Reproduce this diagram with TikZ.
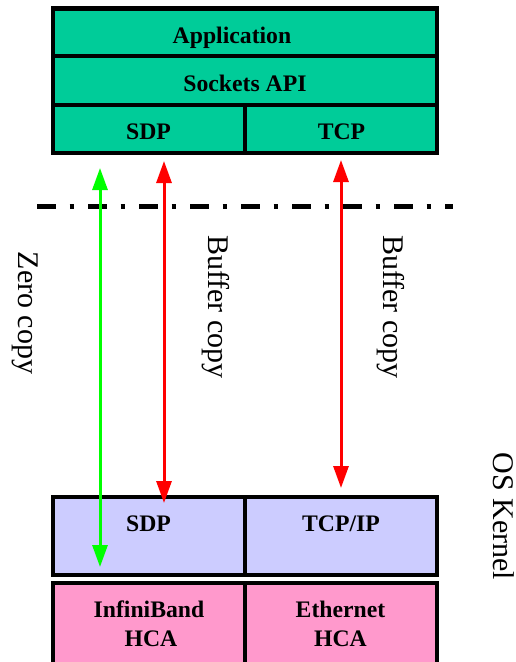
\documentclass[tikz,border=0pt]{standalone}
\usepackage{fontspec}
\setmainfont{Liberation Serif}
\usetikzlibrary{arrows.meta}
\definecolor{topgreen}{RGB}{0,204,153}
\definecolor{kernblue}{RGB}{204,204,255}
\definecolor{hcapink}{RGB}{255,153,204}
\definecolor{arrgreen}{RGB}{0,255,0}
\definecolor{arrred}{RGB}{255,0,0}
\begin{document}
\begin{tikzpicture}[x=1pt,y=-1pt,
  cell/.style={draw=black, line width=4.5pt, inner sep=0pt, outer sep=0pt},
  lbl/.style={font=\fontsize{23.7}{30}\selectfont\bfseries, inner sep=0pt, anchor=base},
  vlbl/.style={font=\fontsize{30}{36}\selectfont, rotate=-90, inner sep=0pt, anchor=base},
  dual/.style={line width=3pt, {Triangle[length=22pt,width=15pt]}-{Triangle[length=22pt,width=15pt]}},
]
\useasboundingbox (0,0) rectangle (516,662);
% top stack
\node[cell, fill=topgreen, minimum width=384pt, minimum height=47.5pt] (app) at (245,32.25) {};
\node[cell, fill=topgreen, minimum width=384pt, minimum height=49pt] (sock) at (245,80.5) {};
\node[cell, fill=topgreen, minimum width=192pt, minimum height=48pt] (sdpT) at (149,129) {};
\node[cell, fill=topgreen, minimum width=192pt, minimum height=48pt] (tcpT) at (341,129) {};
\node[lbl] (appL) at (232,43) {Application};
\node[lbl] (sockL) at (245,91.5) {Sockets API};
\node[lbl] (sdpTL) at (148.5,139) {SDP};
\node[lbl] (tcpTL) at (341.5,139) {TCP};
% kernel row
\node[cell, fill=kernblue, minimum width=192pt, minimum height=78pt] (sdpK) at (149,536) {};
\node[cell, fill=kernblue, minimum width=192pt, minimum height=78pt] (tcpK) at (341,536) {};
\node[lbl] (sdpKL) at (148.5,531.5) {SDP};
\node[lbl] (tcpKL) at (341,531.5) {TCP/IP};
% HCA row
\node[cell, fill=hcapink, minimum width=192pt, minimum height=84pt] (ibH) at (149,625) {};
\node[cell, fill=hcapink, minimum width=192pt, minimum height=84pt] (ethH) at (341,625) {};
\node[lbl] (ibL1) at (149,617) {InfiniBand};
\node[lbl] (ibL2) at (151,646.5) {HCA};
\node[lbl] (ethL1) at (340.5,617) {Ethernet};
\node[lbl] (ethL2) at (340.5,646.5) {HCA};
% boundary line
\coordinate (bl) at (37,206.5);
\coordinate (br) at (453,206.5);
\draw[line width=5pt, dash pattern=on 19pt off 13.7pt on 4pt off 14.3pt] (bl) -- (br);
% arrows
\coordinate (g1) at (100,168);
\coordinate (g2) at (100,567);
\coordinate (r1) at (164,161);
\coordinate (r2) at (164,503);
\coordinate (t1) at (341,160);
\coordinate (t2) at (341,488);
\draw[dual, arrgreen] (g1) -- (g2);
\draw[dual, arrred] (r1) -- (r2);
\draw[dual, arrred] (t1) -- (t2);
% rotated labels
\node[vlbl] (zc) at (18.5,313) {Zero copy};
\node[vlbl] (bc1) at (208.5,307) {Buffer copy};
\node[vlbl] (bc2) at (383.5,307) {Buffer copy};
\node[vlbl] (osk) at (493,516.5) {OS Kernel};
\end{tikzpicture}
\end{document}
